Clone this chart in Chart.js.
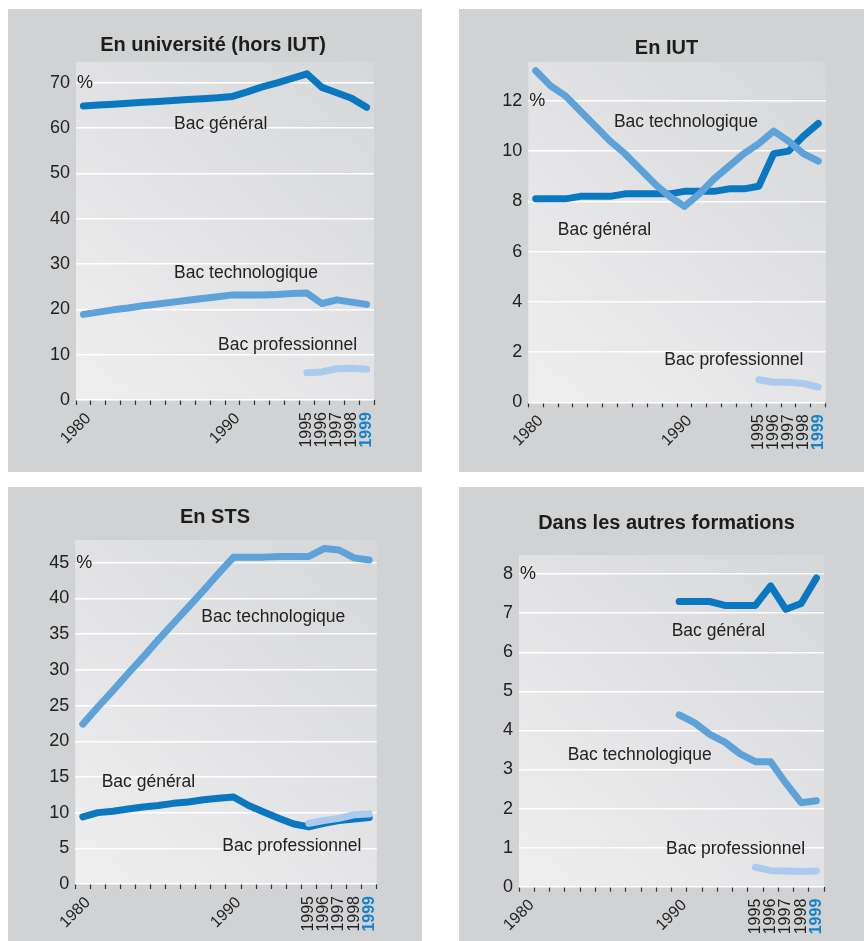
<!DOCTYPE html>
<html>
<head>
<meta charset="utf-8">
<script src="https://cdn.jsdelivr.net/npm/chart.js@4.4.1/dist/chart.umd.min.js"></script>
<style>
  body { margin: 0; width: 864px; height: 941px; background: #fff; position: relative; overflow: hidden; }
  .panel { position: absolute; background: #d1d2d4; }
  .panel canvas { position: absolute; top: 0; }
</style>
</head>
<body>
<div class="panel" style="left:8px;top:9px;width:414px;height:463px"><canvas id="univ" width="410" height="463" style="left:0"></canvas></div>
<div class="panel" style="left:459px;top:9px;width:405px;height:463px"><canvas id="iut" width="395" height="463" style="left:10px"></canvas></div>
<div class="panel" style="left:8px;top:487px;width:414px;height:454px"><canvas id="sts" width="414" height="454" style="left:0"></canvas></div>
<div class="panel" style="left:459px;top:487px;width:405px;height:454px"><canvas id="autres" width="395" height="454" style="left:10px"></canvas></div>

<script>
// years on the x axis
const years = ['1980','1981','1982','1983','1984','1985','1986','1987','1988','1989',
               '1990','1991','1992','1993','1994','1995','1996','1997','1998','1999'];
const slantYears = ['1980', '1990'];
const uprightYears = ['1995', '1996', '1997', '1998', '1999'];
const lastYear = '1999';

// En université (hors IUT)
const univGeneral = [64.9,65.1,65.3,65.5,65.7,65.9,66.1,66.3,66.5,66.7,67.0,68.0,69.1,70.0,71.0,72.0,69.0,67.8,66.6,64.6];
const univTechno  = [18.9,19.4,19.9,20.3,20.8,21.2,21.6,22.0,22.4,22.8,23.2,23.2,23.2,23.3,23.5,23.6,21.3,22.1,21.6,21.1];
const univPro     = [null,null,null,null,null,null,null,null,null,null,null,null,null,null,null,6.0,6.2,6.9,7.0,6.8];

// En IUT
const iutGeneral = [8.1,8.1,8.1,8.2,8.2,8.2,8.3,8.3,8.3,8.3,8.4,8.4,8.4,8.5,8.5,8.6,9.9,10.0,10.6,11.1];
const iutTechno  = [13.2,12.6,12.2,11.6,11.0,10.4,9.9,9.3,8.7,8.2,7.8,8.3,8.9,9.4,9.9,10.3,10.8,10.4,9.9,9.6];
const iutPro     = [null,null,null,null,null,null,null,null,null,null,null,null,null,null,null,0.9,0.8,0.8,0.75,0.6];

// En STS
const stsTechno  = [22.4,24.8,27.1,29.5,31.8,34.2,36.5,38.8,41.1,43.5,45.8,45.8,45.8,45.9,45.9,45.9,47.0,46.8,45.7,45.4];
const stsGeneral = [9.4,10.0,10.2,10.5,10.8,11.0,11.3,11.5,11.8,12.0,12.2,11.0,10.1,9.2,8.4,8.0,8.5,8.9,9.1,9.3];
const stsPro     = [null,null,null,null,null,null,null,null,null,null,null,null,null,null,null,8.5,8.9,9.2,9.7,9.8];

// Dans les autres formations
const autGeneral = [null,null,null,null,null,null,null,null,null,null,7.3,7.3,7.3,7.2,7.2,7.2,7.7,7.1,7.25,7.9];
const autTechno  = [null,null,null,null,null,null,null,null,null,null,4.4,4.2,3.9,3.7,3.4,3.2,3.2,2.65,2.15,2.2];
const autPro     = [null,null,null,null,null,null,null,null,null,null,null,null,null,null,null,0.5,0.41,0.4,0.39,0.4];

const BLUE_GEN = '#0a77c1';
const BLUE_TEC = '#5ea2da';
const BLUE_PRO = '#aacaee';
const FONT = '"Liberation Sans", Arial, Helvetica, sans-serif';

Chart.defaults.font.family = FONT;

// plot background, the "%" sign, series names and the year labels
const panelPlugin = {
  id: 'panel',
  afterLayout(chart) {
    // centre the title on the whole panel, not on the padded box
    const t = chart.titleBlock;
    if (t) { t.left = 0; t.right = chart.width; t.width = chart.width; }
  },
  beforeDraw(chart) {
    const ctx = chart.ctx, a = chart.chartArea;
    const g = ctx.createLinearGradient(a.left, a.bottom, a.right, a.top);
    g.addColorStop(0, '#efeff0');
    g.addColorStop(1, '#d6d7d9');
    ctx.save();
    ctx.fillStyle = g;
    ctx.fillRect(a.left, a.top, a.right - a.left, a.bottom - a.top);
    ctx.restore();
  },
  afterDraw(chart) {
    const opts = chart.options.plugins.panel;
    const ctx = chart.ctx, a = chart.chartArea;
    const x = chart.scales.x, y = chart.scales.y;
    ctx.save();
    ctx.fillStyle = '#222';
    ctx.textBaseline = 'middle';
    ctx.textAlign = 'left';
    ctx.font = '18px ' + FONT;
    ctx.fillText('%', a.left + 1, y.getPixelForValue(opts.pctAt));

    ctx.font = '17.5px ' + FONT;
    opts.notes.forEach(n => {
      ctx.fillText(n.text, x.getPixelForValue(n.at[0]), y.getPixelForValue(n.at[1]));
    });

    ctx.textAlign = 'right';
    slantYears.forEach(yr => {
      const px = x.getPixelForValue(years.indexOf(yr));
      ctx.save();
      ctx.translate(px + 5, a.bottom + 16);
      ctx.rotate(-Math.PI / 4);
      ctx.font = '16px ' + FONT;
      ctx.fillStyle = '#222';
      ctx.fillText(yr, 0, 0);
      ctx.restore();
    });
    uprightYears.forEach(yr => {
      const px = x.getPixelForValue(years.indexOf(yr));
      ctx.save();
      ctx.translate(px, a.bottom + 12);
      ctx.rotate(-Math.PI / 2);
      ctx.font = (yr === lastYear ? 'bold ' : '') + '16px ' + FONT;
      ctx.fillStyle = yr === lastYear ? '#1681c9' : '#222';
      ctx.fillText(yr, 0, 0);
      ctx.restore();
    });
    ctx.restore();
  }
};

function line(data, color) {
  return {
    data: data,
    borderColor: color,
    borderWidth: 7,
    borderCapStyle: 'round',
    borderJoinStyle: 'round',
    pointRadius: 0,
    tension: 0,
    spanGaps: false
  };
}

function makeChart(id, c) {
  const canvas = document.getElementById(id);
  return new Chart(canvas, {
    type: 'line',
    data: {
      labels: years,
      datasets: [line(c.pro, BLUE_PRO), line(c.techno, BLUE_TEC), line(c.general, BLUE_GEN)]
    },
    plugins: [panelPlugin],
    options: {
      responsive: false,
      animation: false,
      layout: { padding: { left: 0, right: canvas.width - c.area[1], top: 0, bottom: 0 } },
      plugins: {
        legend: { display: false },
        tooltip: { enabled: false },
        title: {
          display: true,
          text: c.title,
          color: '#1d1d1b',
          font: { size: 20, weight: 'bold', lineHeight: 1.2 },
          padding: { top: c.titleTop, bottom: c.area[2] - c.titleTop - 24 }
        },
        panel: { pctAt: c.pctAt, notes: c.notes }
      },
      scales: {
        x: {
          offset: true,
          border: { display: false },
          grid: { display: true, offset: true, drawOnChartArea: false, drawTicks: true,
                  tickLength: 5, tickColor: '#333', tickWidth: 1.2 },
          ticks: { display: false, autoSkip: false },
          afterFit: s => { s.height = canvas.height - c.area[3]; }
        },
        y: {
          min: 0,
          max: c.max,
          border: { display: false },
          grid: { color: '#ffffff', lineWidth: 1.5, drawTicks: false },
          ticks: { stepSize: c.step, includeBounds: false, padding: 6, color: '#222',
                   font: { size: 18 } },
          afterFit: s => { s.width = c.area[0]; }
        }
      }
    }
  });
}

// area: [left, right, top, bottom] of the plot inside each canvas
makeChart('univ', {
  title: 'En université (hors IUT)',
  general: univGeneral, techno: univTechno, pro: univPro,
  max: 74.6, step: 10, pctAt: 70, titleTop: 24, area: [68, 366, 53, 391],
  notes: [
    { text: 'Bac général', at: [6.08, 60.9] },
    { text: 'Bac technologique', at: [6.08, 28.0] },
    { text: 'Bac professionnel', at: [9.03, 12.1] }
  ]
});

makeChart('iut', {
  title: 'En IUT',
  general: iutGeneral, techno: iutTechno, pro: iutPro,
  max: 13.55, step: 2, pctAt: 12, titleTop: 27.3, area: [59.3, 356.7, 53, 393.3],
  notes: [
    { text: 'Bac technologique', at: [5.26, 11.14] },
    { text: 'Bac général', at: [1.48, 6.84] },
    { text: 'Bac professionnel', at: [8.65, 1.66] }
  ]
});

makeChart('sts', {
  title: 'En STS',
  general: stsGeneral, techno: stsTechno, pro: stsPro,
  max: 48.2, step: 5, pctAt: 45, titleTop: 18.7, area: [67.3, 368.7, 53, 397],
  notes: [
    { text: 'Bac technologique', at: [7.86, 37.35] },
    { text: 'Bac général', at: [1.25, 14.33] },
    { text: 'Bac professionnel', at: [9.25, 5.32] }
  ]
});

makeChart('autres', {
  title: 'Dans les autres formations',
  general: autGeneral, techno: autTechno, pro: autPro,
  max: 8.49, step: 1, pctAt: 8, titleTop: 24.7, area: [50, 355, 68, 399.7],
  notes: [
    { text: 'Bac général', at: [9.51, 6.53] },
    { text: 'Bac technologique', at: [2.69, 3.37] },
    { text: 'Bac professionnel', at: [9.14, 0.96] }
  ]
});
</script>
</body>
</html>
